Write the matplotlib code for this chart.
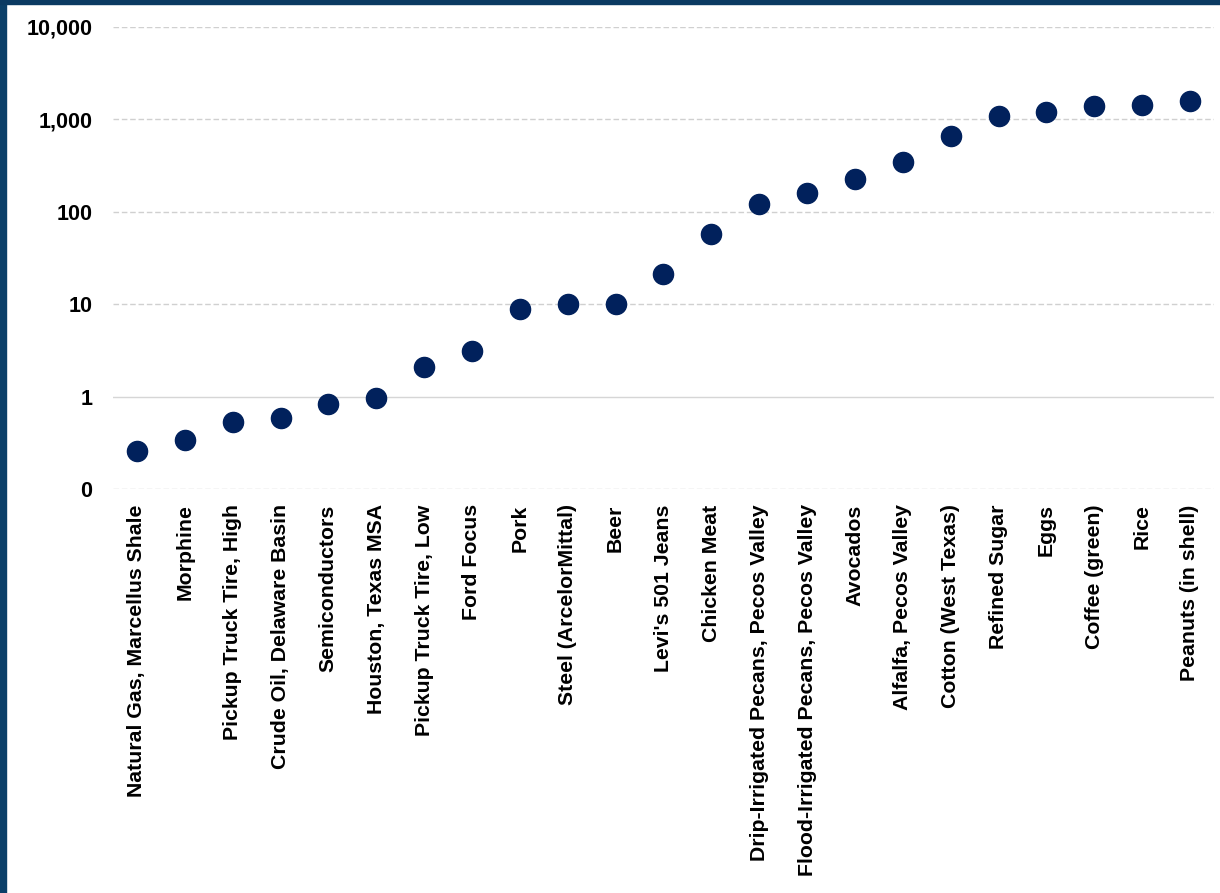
import matplotlib
matplotlib.use("Agg")
import matplotlib.pyplot as plt
from matplotlib.patches import Rectangle
from matplotlib.ticker import FixedLocator, FuncFormatter

categories = [
    "Natural Gas, Marcellus Shale", "Morphine", "Pickup Truck Tire, High",
    "Crude Oil, Delaware Basin", "Semiconductors", "Houston, Texas MSA",
    "Pickup Truck Tire, Low", "Ford Focus", "Pork", "Steel (ArcelorMittal)",
    "Beer", "Levi's 501 Jeans", "Chicken Meat",
    "Drip-Irrigated Pecans, Pecos Valley", "Flood-Irrigated Pecans, Pecos Valley",
    "Avocados", "Alfalfa, Pecos Valley", "Cotton (West Texas)", "Refined Sugar",
    "Eggs", "Coffee (green)", "Rice", "Peanuts (in shell)",
]
values = [0.26, 0.34, 0.53, 0.58, 0.83, 0.96, 2.1, 3.1, 8.8, 10.1, 10.1, 21,
          57, 121, 158, 225, 343, 655, 1080, 1190, 1390, 1420, 1570]
y_ticks = [0.1, 1, 10, 100, 1000, 10000]

plt.rcParams['font.family'] = ['Liberation Sans', 'DejaVu Sans']

fig = plt.figure(figsize=(12.2, 8.93), dpi=100)
ax = fig.add_axes([0.0926, 0.4524, 0.9024, 0.5174])

x = list(range(len(categories)))
ax.plot(x, values, linestyle='none', marker='o', markersize=14.5,
        color='#01215c', zorder=3)

ax.set_yscale('log')
ax.set_ylim(0.1, 10000)
ax.set_xlim(-0.5, len(categories) - 0.5)
ax.yaxis.set_major_locator(FixedLocator(y_ticks))
ax.yaxis.set_minor_locator(FixedLocator([]))
ax.yaxis.set_major_formatter(FuncFormatter(lambda v, p: "0" if v < 0.5 else f"{v:,.0f}"))

for t in y_ticks:
    if t == 1:
        ax.axhline(t, color='#d6d6d6', lw=1, zorder=1)
    else:
        ax.axhline(t, color='#d0d0d0', lw=1, ls=(0, (4, 2)), zorder=1)

ax.set_xticks(x)
ax.set_xticklabels(categories, rotation=90, fontsize=15.3, fontweight='bold')
for lab in ax.get_yticklabels():
    lab.set_fontsize(15.5)
    lab.set_fontweight('bold')
ax.tick_params(axis='both', length=0)
ax.tick_params(axis='y', pad=15)
ax.tick_params(axis='x', pad=11)
for s in ax.spines.values():
    s.set_visible(False)

# frame of the slide
fig.patches.append(Rectangle((0, 0), 6 / 1220, 1, transform=fig.transFigure,
                             color='#0b3f68', zorder=10))
fig.patches.append(Rectangle((0, 1 - 4 / 893), 1, 4 / 893, transform=fig.transFigure,
                             color='#0b3a62', zorder=10))

fig.savefig("out.png", dpi=100)
